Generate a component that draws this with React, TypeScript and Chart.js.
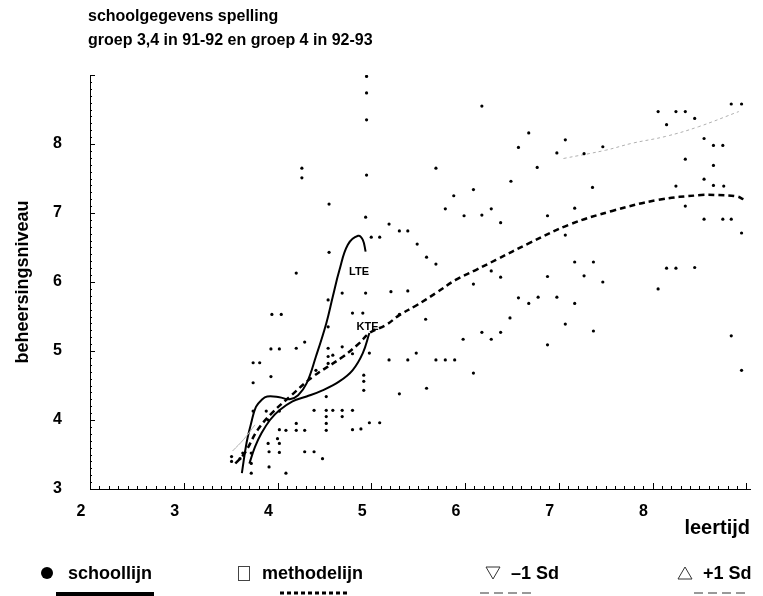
import React, { useEffect, useRef } from "react";
import { Chart, registerables } from "chart.js";
Chart.register(...registerables);

const FONT = '"Liberation Sans", Arial, Helvetica, sans-serif';

const titleLines = ["schoolgegevens spelling", "groep 3,4 in 91-92 en groep 4 in 92-93"];
const xTickLabels = [2, 3, 4, 5, 6, 7, 8];
const yTickLabels = [3, 4, 5, 6, 7, 8];
const xTitle = "leertijd";
const yTitle = "beheersingsniveau";

// scatter of school data
const scatterX = [
  6.18, 8.06, 8.25, 8.35, 8.45, 8.84, 8.95, 8.15, 6.68, 7.07, 6.57, 7.47, 6.98, 7.27, 8.55, 8.65, 8.75, 8.35, 8.65, 5.69,
  6.77, 6.49, 8.55, 7.36, 8.25, 8.65, 8.76, 6.09, 5.88, 5.79, 6.28, 8.35, 7.17, 5.99, 6.18, 6.88, 6.38, 8.55, 8.75, 8.84,
  8.95, 5.39, 5.30, 5.49, 7.07, 5.59, 5.69, 7.17, 7.37, 6.28, 6.38, 6.88, 7.27, 7.47, 6.09, 8.15, 8.25, 8.45, 8.06, 6.57,
  6.68, 6.78, 6.98, 7.17, 5.58, 6.48, 7.07, 7.37, 6.18, 6.38, 5.98, 6.28, 6.88, 5.48, 5.39, 5.69, 5.79, 5.89, 6.09, 5.59,
  8.84, 8.95, 5.30, 4.55, 4.94, 5.19, 5.00, 5.09, 4.55, 4.20, 5.21, 5.39, 4.94, 4.69, 4.54, 4.80, 4.91, 3.94, 4.04, 5.30,
  4.54, 4.29, 4.20, 3.93, 4.02, 4.54, 4.69, 4.59, 4.80, 4.54, 4.98, 5.19, 3.74, 3.81, 4.54, 4.41, 4.92, 3.93, 3.74, 4.92,
  4.92, 4.52, 4.39, 4.52, 4.59, 4.69, 4.80, 3.88, 4.02, 3.74, 4.52, 4.69, 3.90, 4.20, 4.52, 4.98, 5.09, 4.02, 4.09, 4.20,
  4.29, 4.52, 4.80, 4.89, 4.00, 3.90, 4.02, 3.63, 3.72, 3.91, 4.02, 4.29, 4.39, 3.51, 3.60, 3.51, 4.48, 3.91, 3.72, 3.72,
  4.09, 4.95, 4.95, 4.95, 4.95, 4.26, 4.26,
];
const scatterY = [
  8.55, 8.47, 8.47, 8.47, 8.37, 8.58, 8.58, 8.28, 8.16, 8.06, 7.95, 7.96, 7.87, 7.86, 8.08, 7.98, 7.98, 7.78, 7.69, 7.65,
  7.66, 7.46, 7.49, 7.37, 7.39, 7.40, 7.39, 7.34, 7.25, 7.06, 7.06, 7.10, 7.07, 6.96, 6.97, 6.96, 6.86, 6.91, 6.91, 6.91,
  6.71, 6.74, 6.74, 6.55, 6.68, 6.36, 6.26, 6.29, 6.29, 6.16, 6.07, 6.08, 6.09, 6.00, 5.97, 6.20, 6.20, 6.21, 5.90, 5.77,
  5.69, 5.78, 5.78, 5.69, 5.46, 5.48, 5.39, 5.29, 5.27, 5.27, 5.17, 5.17, 5.09, 4.97, 4.87, 4.87, 4.87, 4.87, 4.68, 4.46,
  5.22, 4.72, 4.38, 7.13, 6.94, 6.84, 6.65, 6.65, 6.43, 6.13, 5.86, 5.87, 5.84, 5.84, 5.74, 5.55, 5.55, 5.53, 5.53, 5.53,
  5.35, 5.13, 5.04, 5.03, 5.03, 5.04, 5.06, 4.94, 4.96, 4.92, 4.97, 4.87, 4.83, 4.83, 4.82, 4.72, 4.65, 4.63, 4.54, 4.56,
  4.43, 4.34, 4.14, 4.14, 4.14, 4.14, 4.14, 4.13, 4.13, 4.13, 4.05, 4.05, 4.00, 3.95, 3.95, 3.96, 3.96, 3.86, 3.85, 3.85,
  3.85, 3.85, 3.86, 3.87, 3.73, 3.66, 3.66, 3.52, 3.52, 3.54, 3.53, 3.54, 3.54, 3.47, 3.44, 3.40, 3.44, 3.32, 3.37, 3.23,
  3.23, 8.98, 8.74, 8.35, 7.55, 7.65, 7.51,
];

// schoollijn, LTE branch
const lteX = [3.62, 3.67, 3.72, 3.77, 3.83, 3.89, 4.02, 4.13, 4.22, 4.31, 4.41, 4.52, 4.59, 4.66, 4.75, 4.86, 4.91, 4.94];
const lteY = [3.23, 3.67, 3.96, 4.19, 4.29, 4.34, 4.33, 4.30, 4.36, 4.53, 4.92, 5.40, 5.79, 6.17, 6.54, 6.67, 6.61, 6.44];
// schoollijn, KTE branch
const kteX = [3.70, 3.76, 3.83, 3.92, 4.02, 4.16, 4.31, 4.48, 4.66, 4.80, 4.91, 4.98];
const kteY = [3.37, 3.61, 3.81, 4.00, 4.14, 4.27, 4.34, 4.43, 4.56, 4.72, 4.97, 5.26];
// methodelijn
const methodX = [3.55, 3.65, 3.79, 3.94, 4.15, 4.37, 4.69, 4.87, 4.98, 5.16, 5.30, 5.48, 5.69, 5.90, 6.11, 6.33, 6.68, 7.11, 7.57, 8.06, 8.52, 8.70, 8.90, 8.97];
const methodY = [3.37, 3.52, 3.86, 4.10, 4.36, 4.62, 4.91, 5.11, 5.26, 5.38, 5.52, 5.66, 5.84, 6.03, 6.17, 6.32, 6.56, 6.83, 7.03, 7.19, 7.26, 7.26, 7.24, 7.20];
// +1 Sd
const plusSdX = [7.05, 7.50, 7.78, 8.14, 8.49, 8.92];
const plusSdY = [7.79, 7.91, 8.01, 8.11, 8.25, 8.47];
// -1 Sd
const minSdX = [3.52, 3.64, 3.76];
const minSdY = [3.55, 3.72, 3.93];

const curveLabels = ["LTE", "KTE"];
const curveLabelX = [4.87, 4.96];
const curveLabelY = [6.14, 5.35];

const legendNames = ["schoollijn", "methodelijn", "–1 Sd", "+1 Sd"];

const zip = (xs: number[], ys: number[]) => xs.map((x, i) => ({ x, y: ys[i] }));

const decorPlugin = {
  id: "decor",
  afterDraw(chart: any) {
    const { ctx, chartArea, scales } = chart;
    const x = scales.x;
    const y = scales.y;
    ctx.save();
    ctx.strokeStyle = "#000";
    ctx.lineWidth = 1;
    for (let i = 20; i <= 90; i++) {
      const px = Math.round(x.getPixelForValue(i / 10)) + 0.5;
      const len = i % 10 === 0 ? 6 : 3;
      ctx.beginPath();
      ctx.moveTo(px, chartArea.bottom);
      ctx.lineTo(px, chartArea.bottom - len);
      ctx.stroke();
    }
    for (let i = 30; i <= 90; i++) {
      const py = Math.round(y.getPixelForValue(i / 10)) + 0.5;
      const len = i % 10 === 0 ? 5 : 2;
      ctx.beginPath();
      ctx.moveTo(chartArea.left, py);
      ctx.lineTo(chartArea.left + len, py);
      ctx.stroke();
    }
    ctx.fillStyle = "#000";
    ctx.font = `bold 11px ${FONT}`;
    ctx.textAlign = "center";
    ctx.textBaseline = "middle";
    curveLabels.forEach((t, i) => {
      ctx.fillText(t, x.getPixelForValue(curveLabelX[i]), y.getPixelForValue(curveLabelY[i]));
    });
    ctx.restore();
  },
};

export default function App() {
  const ref = useRef<HTMLCanvasElement>(null);
  useEffect(() => {
    const lineDs = (label: string, data: any[], extra: any) => ({
      label,
      data,
      showLine: true,
      pointRadius: 0,
      fill: false,
      tension: 0.4,
      borderColor: "#000",
      borderWidth: 2,
      ...extra,
    });
    const chart = new Chart(ref.current as HTMLCanvasElement, {
      type: "scatter",
      data: {
        datasets: [
          {
            label: "data",
            data: zip(scatterX, scatterY),
            pointRadius: 1.6,
            pointBackgroundColor: "#000",
            pointBorderWidth: 0,
            showLine: false,
          },
          lineDs("+1 Sd", zip(plusSdX, plusSdY), { borderColor: "#b0b0b0", borderWidth: 1, borderDash: [3, 3] }),
          lineDs("-1 Sd", zip(minSdX, minSdY), { borderColor: "#b0b0b0", borderWidth: 1 }),
          lineDs("methodelijn", zip(methodX, methodY), { borderWidth: 2.5, borderDash: [6, 4] }),
          lineDs("schoollijn LTE", zip(lteX, lteY), {}),
          lineDs("schoollijn KTE", zip(kteX, kteY), {}),
        ] as any,
      },
      options: {
        animation: false,
        responsive: false,
        devicePixelRatio: 1,
        layout: { padding: { left: 12, top: 75, right: 11, bottom: 56 } },
        plugins: { legend: { display: false }, tooltip: { enabled: false }, title: { display: false } },
        scales: {
          x: {
            type: "linear",
            min: 2,
            max: 9.04,
            grid: { display: false, drawTicks: false },
            border: { display: true, color: "#000", width: 1 },
            ticks: {
              stepSize: 1,
              padding: 13,
              labelOffset: -9,
              autoSkip: false,
              maxRotation: 0,
              color: "#000",
              font: { family: FONT, size: 16, weight: "bold" },
              callback: (v: any) => (xTickLabels.includes(Number(v)) ? String(v) : ""),
            },
            title: { display: true, text: xTitle, align: "end", color: "#000", padding: 0, font: { family: FONT, size: 20, weight: "bold" } },
            afterFit: (s: any) => {
              s.height = 51;
            },
          },
          y: {
            type: "linear",
            min: 3,
            max: 9,
            grid: { display: false, drawTicks: false },
            border: { display: true, color: "#000", width: 1 },
            ticks: {
              stepSize: 1,
              padding: 28,
              color: "#000",
              font: { family: FONT, size: 16, weight: "bold" },
              callback: (v: any) => (yTickLabels.includes(Number(v)) ? String(v) : ""),
            },
            title: { display: true, text: yTitle, color: "#000", padding: 0, font: { family: FONT, size: 18, weight: "bold" } },
            afterFit: (s: any) => {
              s.width = 78;
            },
          },
        },
      } as any,
      plugins: [decorPlugin],
    });
    return () => chart.destroy();
  }, []);

  const txt: React.CSSProperties = { position: "absolute", fontWeight: "bold", fontSize: 16, lineHeight: "20px", color: "#000", whiteSpace: "nowrap" };
  const leg: React.CSSProperties = { ...txt, fontSize: 18, lineHeight: "22px", top: 562 };
  return (
    <div style={{ position: "absolute", left: 0, top: 0, width: 763, height: 596, background: "#fff", fontFamily: FONT, overflow: "hidden" }}>
      <canvas ref={ref} width={763} height={596} style={{ position: "absolute", left: 0, top: 0 }} />
      <div style={{ ...txt, left: 88, top: 4, lineHeight: "24px" }}>
        {titleLines[0]}
        <br />
        {titleLines[1]}
      </div>
      {/* legend */}
      <div style={{ position: "absolute", left: 41, top: 567, width: 12, height: 12, borderRadius: "50%", background: "#000" }} />
      <div style={{ ...leg, left: 68 }}>{legendNames[0]}</div>
      <div style={{ position: "absolute", left: 56, top: 592, width: 98, height: 4, background: "#000" }} />

      <div style={{ position: "absolute", left: 238, top: 566, width: 10, height: 13, border: "1px solid #444" }} />
      <div style={{ ...leg, left: 262 }}>{legendNames[1]}</div>
      <svg style={{ position: "absolute", left: 280, top: 590 }} width={70} height={6}>
        <line x1={0} y1={3} x2={70} y2={3} stroke="#000" strokeWidth={3} strokeDasharray="4 3" />
      </svg>

      <svg style={{ position: "absolute", left: 485, top: 566 }} width={16} height={14}>
        <polygon points="1,1 15,1 8,13" fill="none" stroke="#333" strokeWidth={1} />
      </svg>
      <div style={{ ...leg, left: 511 }}>{legendNames[2]}</div>
      <svg style={{ position: "absolute", left: 480, top: 590 }} width={55} height={6}>
        <line x1={0} y1={3} x2={55} y2={3} stroke="#999" strokeWidth={2} strokeDasharray="9 5" />
      </svg>

      <svg style={{ position: "absolute", left: 677, top: 566 }} width={16} height={14}>
        <polygon points="1,13 15,13 8,1" fill="none" stroke="#333" strokeWidth={1} />
      </svg>
      <div style={{ ...leg, left: 703 }}>{legendNames[3]}</div>
      <svg style={{ position: "absolute", left: 694, top: 590 }} width={55} height={6}>
        <line x1={0} y1={3} x2={55} y2={3} stroke="#999" strokeWidth={2} strokeDasharray="9 5" />
      </svg>
    </div>
  );
}
